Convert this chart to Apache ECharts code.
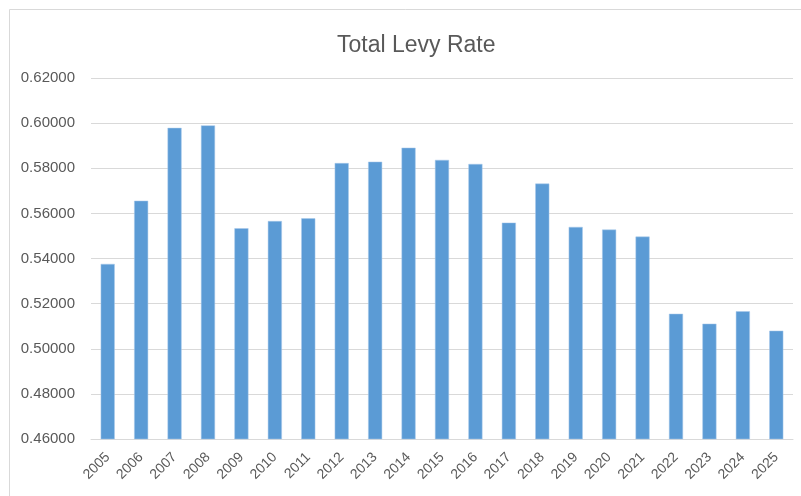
<!DOCTYPE html>
<html>
<head>
<meta charset="utf-8">
<script src="https://cdn.jsdelivr.net/npm/echarts@6/dist/echarts.min.js"></script>
<style>
  html, body { margin: 0; padding: 0; background: #fff; }
  #chart { width: 801px; height: 496px; }
</style>
</head>
<body>
<div id="chart"></div>
<script>
const years = ['2005', '2006', '2007', '2008', '2009', '2010', '2011', '2012', '2013', '2014', '2015',
  '2016', '2017', '2018', '2019', '2020', '2021', '2022', '2023', '2024', '2025']
const levyRate = [0.5376, 0.5656, 0.5979, 0.5990, 0.5534, 0.5566, 0.5578, 0.5823, 0.5829, 0.5891, 0.5837,
  0.5819, 0.5559, 0.5732, 0.5540, 0.5528, 0.5497, 0.5155, 0.5111, 0.5166, 0.5080]
const yTicks = [0.46, 0.48, 0.50, 0.52, 0.54, 0.56, 0.58, 0.60, 0.62]

const chart = echarts.init(document.getElementById('chart'))

const option = {
  backgroundColor: '#fff',
  animation: false,
  textStyle: { fontFamily: 'Liberation Sans' },
  title: {
    text: 'Total Levy Rate',
    left: 332,
    top: 29,
    textStyle: { color: '#595959', fontSize: 23, fontWeight: 'normal', fontFamily: 'Liberation Sans' }
  },
  graphic: [{
    type: 'rect',
    shape: { x: 9.5, y: 9.5, width: 900, height: 600 },
    style: { fill: 'none', stroke: '#d9d9d9', lineWidth: 1 },
    silent: true
  }],
  grid: { left: 91, right: 8, top: 78, bottom: 57 },
  xAxis: {
    type: 'category',
    data: years,
    axisLine: { lineStyle: { color: '#d9d9d9', width: 1 } },
    axisTick: { show: false },
    axisLabel: { color: '#595959', fontSize: 14, rotate: 45, margin: 16, interval: 0 }
  },
  yAxis: {
    type: 'value',
    min: yTicks[0],
    max: yTicks[yTicks.length - 1],
    interval: 0.02,
    axisLine: { show: false },
    axisTick: { show: false },
    axisLabel: { color: '#595959', fontSize: 15, margin: 16, formatter: v => v.toFixed(5) },
    splitLine: { lineStyle: { color: '#d9d9d9', width: 1 } }
  },
  series: [{
    name: 'Total Levy Rate',
    type: 'bar',
    data: levyRate,
    barWidth: '42%',
    itemStyle: { color: '#5b9bd5', borderColor: '#a9c9ea', borderWidth: 0.5 }
  }]
}

chart.setOption(option)
</script>
</body>
</html>
